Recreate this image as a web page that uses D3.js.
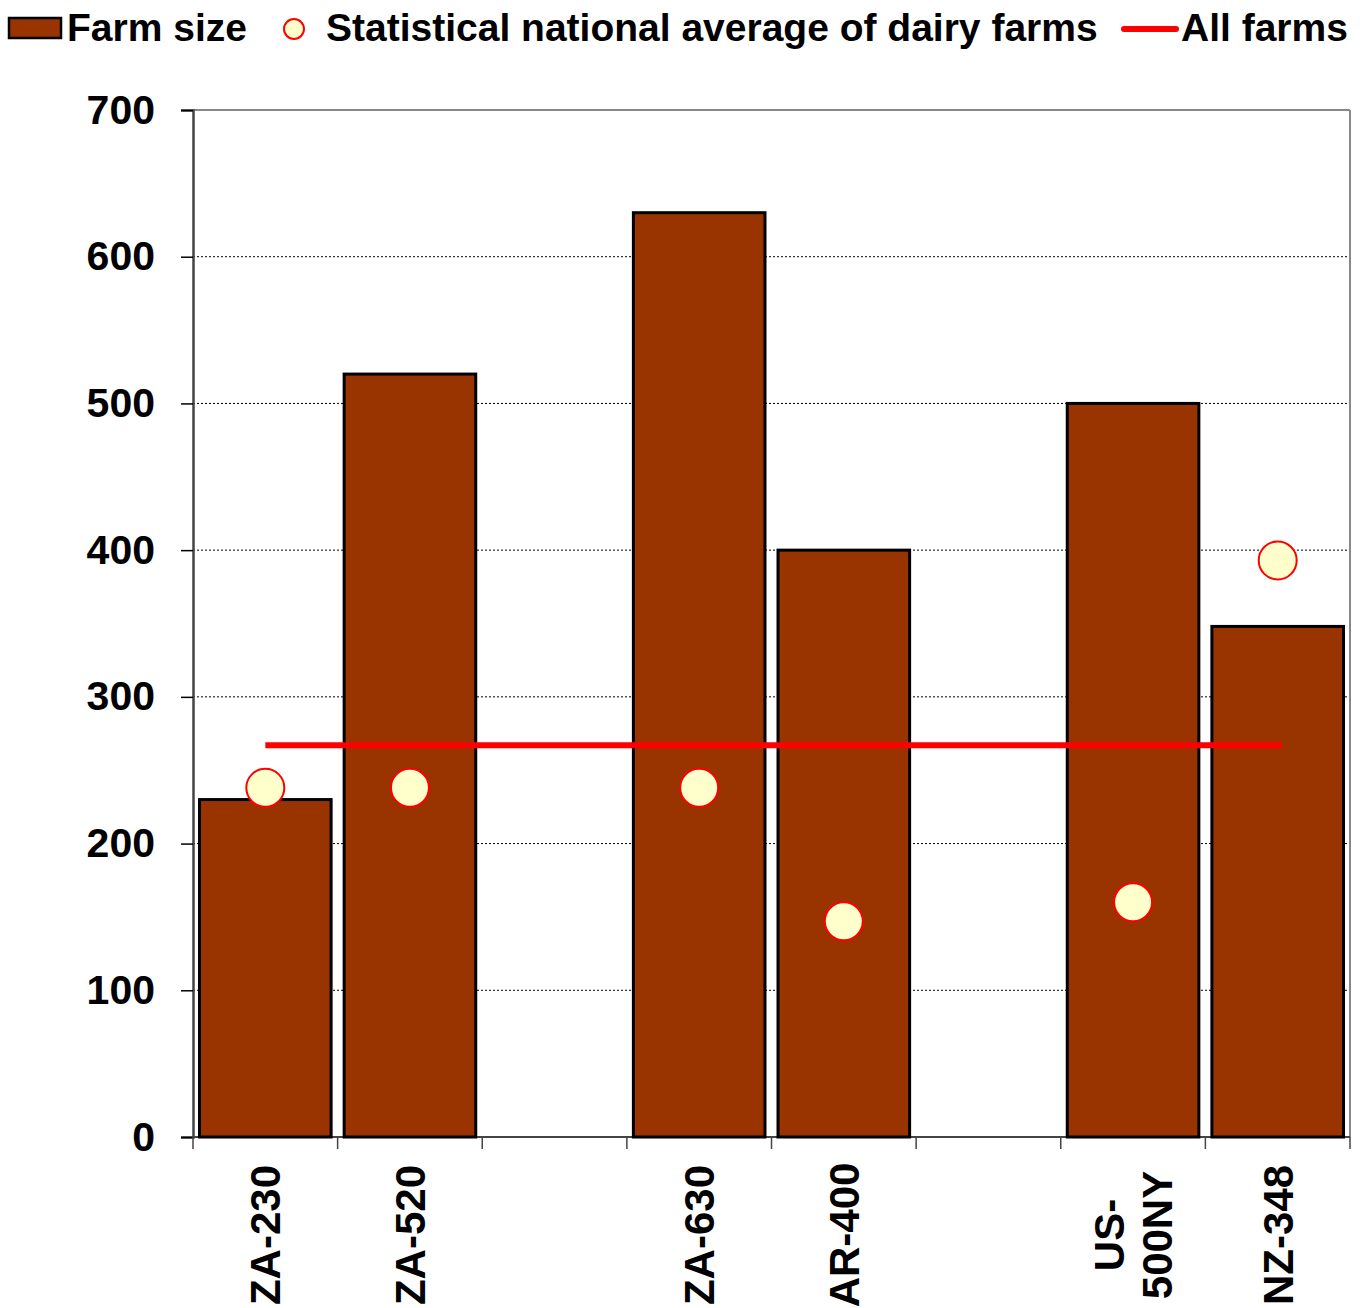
<!DOCTYPE html>
<html>
<head>
<meta charset="utf-8">
<script src="https://cdn.jsdelivr.net/npm/d3@7"></script>
<style>
body { margin: 0; background: #fff; }
text { font-family: "Liberation Sans", Arial, sans-serif; font-weight: bold; }
</style>
</head>
<body>
<svg width="1367" height="1308"></svg>
<script>
// data
const slots = ["ZA-230", "ZA-520", "gap-1", "ZA-630", "AR-400", "gap-2", "US-500NY", "NZ-348"];
const categories = ["ZA-230", "ZA-520", "ZA-630", "AR-400", "US-500NY", "NZ-348"];
const labelLines = [["ZA-230"], ["ZA-520"], ["ZA-630"], ["AR-400"], ["US-", "500NY"], ["NZ-348"]];
const farmSize = [230, 520, 630, 400, 500, 348];
const nationalAvg = [238, 238, 238, 147, 160, 393];
const allFarms = 267;
const yTicks = [0, 100, 200, 300, 400, 500, 600, 700];

const plotLeft = 193, plotRight = 1350, plotTop = 110, plotBottom = 1137;

let svg = d3.select("svg");

let x = d3.scaleBand()
    .domain(slots)
    .range([plotLeft, plotRight])
    .paddingInner(0.09)
    .paddingOuter(0.045);

let y = d3.scaleLinear()
    .domain([0, 700])
    .range([plotBottom, plotTop]);

// gridlines
svg.append("g")
    .selectAll("line")
    .data(yTicks.filter(d => d > 0 && d < 700))
    .enter()
    .append("line")
    .attr("x1", plotLeft)
    .attr("x2", plotRight)
    .attr("y1", d => y(d))
    .attr("y2", d => y(d))
    .attr("stroke", "#000")
    .attr("stroke-width", 1)
    .attr("stroke-dasharray", "2,2");

// plot border top / right
svg.append("line")
    .attr("x1", plotLeft).attr("x2", plotRight)
    .attr("y1", y(700)).attr("y2", y(700))
    .attr("stroke", "#888").attr("stroke-width", 2);
svg.append("line")
    .attr("x1", plotRight).attr("x2", plotRight)
    .attr("y1", y(700)).attr("y2", plotBottom)
    .attr("stroke", "#888").attr("stroke-width", 2);

// y axis
let yAxis = svg.append("g")
    .attr("transform", "translate(" + plotLeft + ",0)")
    .call(d3.axisLeft(y).tickValues(yTicks).tickSize(12).tickPadding(26));
yAxis.select(".domain").attr("stroke", "#444").attr("stroke-width", 2.5);
yAxis.selectAll(".tick line").attr("stroke", "#000").attr("stroke-width", 1.5);
yAxis.selectAll("text")
    .style("font-size", "41px")
    .attr("fill", "#000");

// x axis line and boundary ticks
svg.append("line")
    .attr("x1", plotLeft).attr("x2", plotRight)
    .attr("y1", plotBottom).attr("y2", plotBottom)
    .attr("stroke", "#444").attr("stroke-width", 2);

svg.append("g")
    .selectAll("line")
    .data(d3.range(slots.length + 1))
    .enter()
    .append("line")
    .attr("x1", i => plotLeft + i * x.step())
    .attr("x2", i => plotLeft + i * x.step())
    .attr("y1", plotBottom)
    .attr("y2", plotBottom + 12)
    .attr("stroke", "#444")
    .attr("stroke-width", 1.5);

// bars
svg.selectAll("rect.bar")
    .data(categories)
    .enter()
    .append("rect")
    .attr("class", "bar")
    .attr("x", d => x(d))
    .attr("y", (d, i) => y(farmSize[i]))
    .attr("width", x.bandwidth())
    .attr("height", (d, i) => plotBottom - y(farmSize[i]))
    .attr("fill", "#993300")
    .attr("stroke", "#000")
    .attr("stroke-width", 3);

// all farms line
svg.append("line")
    .attr("x1", x(categories[0]) + x.bandwidth() / 2)
    .attr("x2", x(categories[categories.length - 1]) + x.bandwidth() / 2 + 4)
    .attr("y1", y(allFarms))
    .attr("y2", y(allFarms))
    .attr("stroke", "#ff0000")
    .attr("stroke-width", 6);

// national averages
svg.selectAll("circle.avg")
    .data(categories)
    .enter()
    .append("circle")
    .attr("class", "avg")
    .attr("cx", d => x(d) + x.bandwidth() / 2)
    .attr("cy", (d, i) => y(nationalAvg[i]))
    .attr("r", 19)
    .attr("fill", "#ffffcc")
    .attr("stroke", "#ff0000")
    .attr("stroke-width", 2);

// x labels, rotated
categories.forEach((c, i) => {
    let cx = x(c) + x.bandwidth() / 2;
    let lines = labelLines[i];
    lines.forEach((t, j) => {
        let off = (j - (lines.length - 1) / 2) * 48;
        svg.append("text")
            .attr("transform", "translate(" + (cx + off) + "," + 1235 + ") rotate(-90)")
            .attr("text-anchor", "middle")
            .attr("dy", "0.36em")
            .style("font-size", "42px")
            .text(t);
    });
});

// legend
let legend = svg.append("g");
legend.append("rect")
    .attr("x", 9).attr("y", 18)
    .attr("width", 52).attr("height", 20)
    .attr("fill", "#993300")
    .attr("stroke", "#000")
    .attr("stroke-width", 2.5);
legend.append("text")
    .attr("x", 67).attr("y", 41)
    .style("font-size", "39px")
    .text("Farm size");
legend.append("circle")
    .attr("cx", 294).attr("cy", 29).attr("r", 10)
    .attr("fill", "#ffffcc")
    .attr("stroke", "#ff0000")
    .attr("stroke-width", 2);
legend.append("text")
    .attr("x", 326).attr("y", 41)
    .style("font-size", "39px")
    .text("Statistical national average of dairy farms");
legend.append("line")
    .attr("x1", 1124).attr("x2", 1176)
    .attr("y1", 29).attr("y2", 29)
    .attr("stroke", "#ff0000")
    .attr("stroke-width", 6)
    .attr("stroke-linecap", "round");
legend.append("text")
    .attr("x", 1181).attr("y", 41)
    .style("font-size", "39px")
    .text("All farms");
</script>
</body>
</html>
